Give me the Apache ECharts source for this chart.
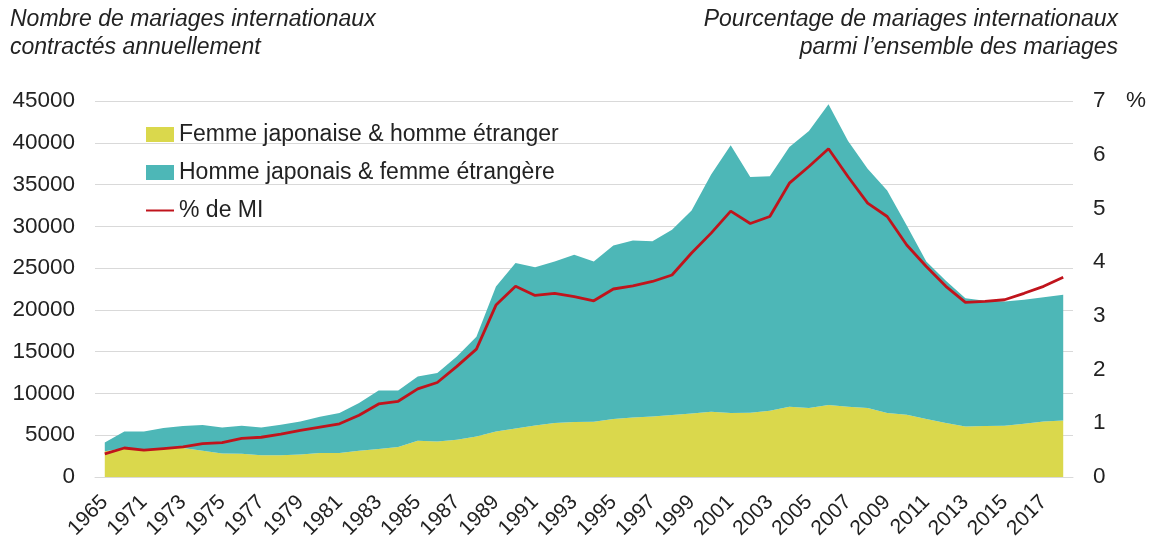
<!DOCTYPE html>
<html>
<head>
<meta charset="utf-8">
<script src="https://cdn.jsdelivr.net/npm/echarts@6/dist/echarts.min.js"></script>
<style>
html,body{margin:0;padding:0;background:#fff;}
#chart{width:1150px;height:540px;}
</style>
</head>
<body>
<div id="chart"></div>
<script>
const years = ['1965','1970','1971','1972','1973','1974','1975','1976','1977','1978','1979','1980','1981','1982','1983','1984','1985','1986','1987','1988','1989','1990','1991','1992','1993','1994','1995','1996','1997','1998','1999','2000','2001','2002','2003','2004','2005','2006','2007','2008','2009','2010','2011','2012','2013','2014','2015','2016','2017','2018'];

const femmeJaponaise = [3089,3438,3270,3420,3470,3150,2823,2790,2590,2590,2700,2875,2870,3140,3350,3590,4350,4260,4460,4860,5455,5800,6175,6455,6575,6620,6935,7130,7250,7410,7610,7810,7650,7690,7930,8410,8250,8610,8400,8250,7650,7450,6935,6455,6055,6100,6130,6375,6655,6775];

const hommeJaponais = [1050,2020,2185,2440,2630,3070,3110,3345,3345,3665,3950,4350,4780,5710,7010,6770,7690,8180,9970,11940,17345,19800,18925,19345,20025,19180,20765,21170,20950,22190,24290,28390,32050,28210,28070,31090,33150,35990,31800,28650,26650,22650,18865,17045,15345,15000,14870,14825,14845,15025];

const pctMI = [0.43,0.54,0.50,0.53,0.56,0.62,0.64,0.72,0.74,0.80,0.87,0.93,0.99,1.15,1.36,1.41,1.64,1.76,2.06,2.38,3.20,3.55,3.38,3.42,3.36,3.28,3.50,3.56,3.64,3.76,4.17,4.54,4.95,4.72,4.85,5.47,5.78,6.11,5.59,5.10,4.85,4.32,3.92,3.55,3.25,3.27,3.30,3.42,3.55,3.72];

const seriesNames = ['Femme japonaise & homme étranger','Homme japonais & femme étrangère','% de MI'];

const FONT = '"Liberation Sans", Arial, sans-serif';
const chart = echarts.init(document.getElementById('chart'), null, {renderer:'canvas'});
chart.setOption({
  animation:false,
  backgroundColor:'#fff',
  textStyle:{fontFamily:FONT},
  grid:{left:95,right:77,top:101,bottom:63,containLabel:false,outerBoundsMode:'none'},
  legend:{
    orient:'vertical', left:140, top:118, itemGap:15,
    itemWidth:28, itemHeight:15,
    textStyle:{fontFamily:FONT,fontSize:23,color:'#222'},
    data:[
      {name:seriesNames[0],icon:'rect'},
      {name:seriesNames[1],icon:'rect'},
      {name:seriesNames[2],itemStyle:{opacity:0}}
    ]
  },
  graphic:[
    {type:'text',left:10,top:6,style:{text:'Nombre de mariages internationaux\ncontractés annuellement',fontFamily:FONT,fontStyle:'italic',fontSize:23,lineHeight:28,fill:'#222'}},
    {type:'text',x:1118,y:6,style:{text:'Pourcentage de mariages internationaux\nparmi l\u2019ensemble des mariages',fontFamily:FONT,fontStyle:'italic',fontSize:23,lineHeight:28,fill:'#222',align:'right',textAlign:'right'}},
    {type:'text',x:1126,y:89,style:{text:'%',fontFamily:FONT,fontSize:22.5,fill:'#222'}}
  ],
  xAxis:{
    type:'category', data:years, boundaryGap:true,
    axisLine:{show:true,lineStyle:{color:'#d9d9d9',width:1}},
    axisTick:{show:false},
    axisLabel:{interval:1,rotate:45,fontSize:21,color:'#222',margin:22,fontFamily:FONT}
  },
  yAxis:[
    {type:'value',min:0,max:45000,interval:5000,
     axisLine:{show:false},axisTick:{show:false},
     splitLine:{lineStyle:{color:'#d9d9d9',width:1}},
     axisLabel:{fontSize:22.5,color:'#222',margin:20,fontFamily:FONT,formatter:function(v){return String(v);}}},
    {type:'value',min:0,max:7,interval:1,position:'right',
     axisLine:{show:false},axisTick:{show:false},splitLine:{show:false},
     axisLabel:{fontSize:22.5,color:'#222',margin:20,fontFamily:FONT}}
  ],
  series:[
    {name:seriesNames[0],type:'line',stack:'total',data:femmeJaponaise,
     symbol:'none',lineStyle:{width:0},itemStyle:{color:'#dad84c'},
     areaStyle:{color:'#dad84c',opacity:1}},
    {name:seriesNames[1],type:'line',stack:'total',data:hommeJaponais,
     symbol:'none',lineStyle:{width:0},itemStyle:{color:'#4db7b7'},
     areaStyle:{color:'#4db7b7',opacity:1}},
    {name:seriesNames[2],type:'line',yAxisIndex:1,data:pctMI,
     symbol:'none',lineStyle:{width:2.8,color:'#c0141c'},itemStyle:{color:'#c0141c'},z:5}
  ]
});
</script>
</body>
</html>
